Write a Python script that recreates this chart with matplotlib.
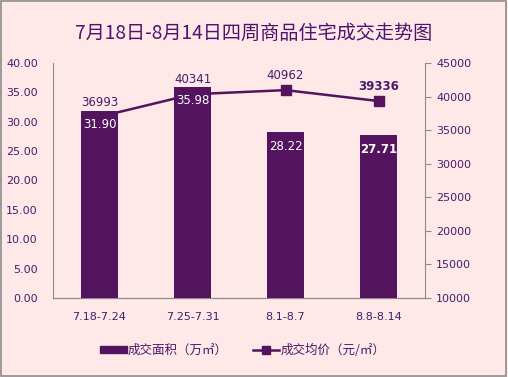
import numpy as np
import matplotlib.pyplot as plt

plt.rcParams['font.family'] = ['DejaVu Sans', 'Noto Sans CJK SC']

weeks = ["7.18-7.24", "7.25-7.31", "8.1-8.7", "8.8-8.14"]
area = [31.90, 35.98, 28.22, 27.71]
price = [36993, 40341, 40962, 39336]

bg = '#FFE8E8'
purple = '#53135E'
txt = '#4A1A6A'

fig = plt.figure(figsize=(5.08, 3.77), dpi=100, facecolor=bg)
fig.patches.append(plt.Rectangle((0.002, 0.003), 0.995, 0.994, transform=fig.transFigure,
                                 fill=False, edgecolor='#8C8C8C', lw=1.2))
ax = fig.add_axes([53/508, 1-298/377, 372/508, 235/377], facecolor=bg)
ax2 = ax.twinx()
ax.set_zorder(ax2.get_zorder() + 1)
ax.patch.set_visible(False)

x = np.arange(len(weeks))
ax.bar(x, area, width=0.4, color=purple, zorder=3)
ax2.plot(x, price, color=purple, lw=1.8, marker='s', ms=7)

ax.set_xlim(-0.5, 3.5)
ax.set_ylim(0, 40)
ax.set_yticks(np.arange(0, 41, 5))
ax.set_yticklabels(['%.2f' % v for v in np.arange(0, 41, 5)])
ax2.set_ylim(10000, 45000)
ax2.set_yticks(np.arange(10000, 45001, 5000))

for a in (ax, ax2):
    for s in a.spines.values():
        s.set_color('#8C8C8C')
    a.spines['top'].set_visible(False)
    a.tick_params(labelsize=8, colors='#8C8C8C', labelcolor=txt)
ax.spines['right'].set_visible(False)
ax2.spines['left'].set_visible(False)
ax.tick_params(axis='y', length=0, pad=11)
ax.tick_params(axis='x', length=0, pad=10)
ax2.tick_params(axis='y', length=4, pad=4)
ax.set_xticks(x)
ax.set_xticklabels(weeks)

for i, v in enumerate(area):
    ax.text(x[i], v - 1.3, '%.2f' % v, ha='center', va='top', color='white',
            fontsize=8.5, fontweight='bold' if i == 3 else 'normal', zorder=5)
for i, v in enumerate(price):
    ax2.text(x[i], v + 1200, str(v), ha='center', va='bottom', color=txt,
             fontsize=8.5, fontweight='bold' if i == 3 else 'normal')

fig.text(0.5, 1-33/377, '7月18日-8月14日四周商品住宅成交走势图', ha='center', va='center',
         fontsize=13.8, color='#4A1470', family=['Noto Sans CJK SC', 'DejaVu Sans'])

h1 = plt.Rectangle((0, 0), 1, 1, color=purple)
h2, = plt.plot([], [], color=purple, lw=1.8, marker='s', ms=6)
fig.legend([h1, h2], ['成交面积（万㎡）', '成交均价（元/㎡）'], loc='center',
           bbox_to_anchor=(0.478, 1-350/377), ncol=2, frameon=False,
           labelcolor=txt, handlelength=2.1, handleheight=0.5, columnspacing=2.0,
           handletextpad=0.1, prop={'family': ['Noto Sans CJK SC', 'DejaVu Sans'], 'size': 9})

fig.savefig('out.png', dpi=100, facecolor=bg)
